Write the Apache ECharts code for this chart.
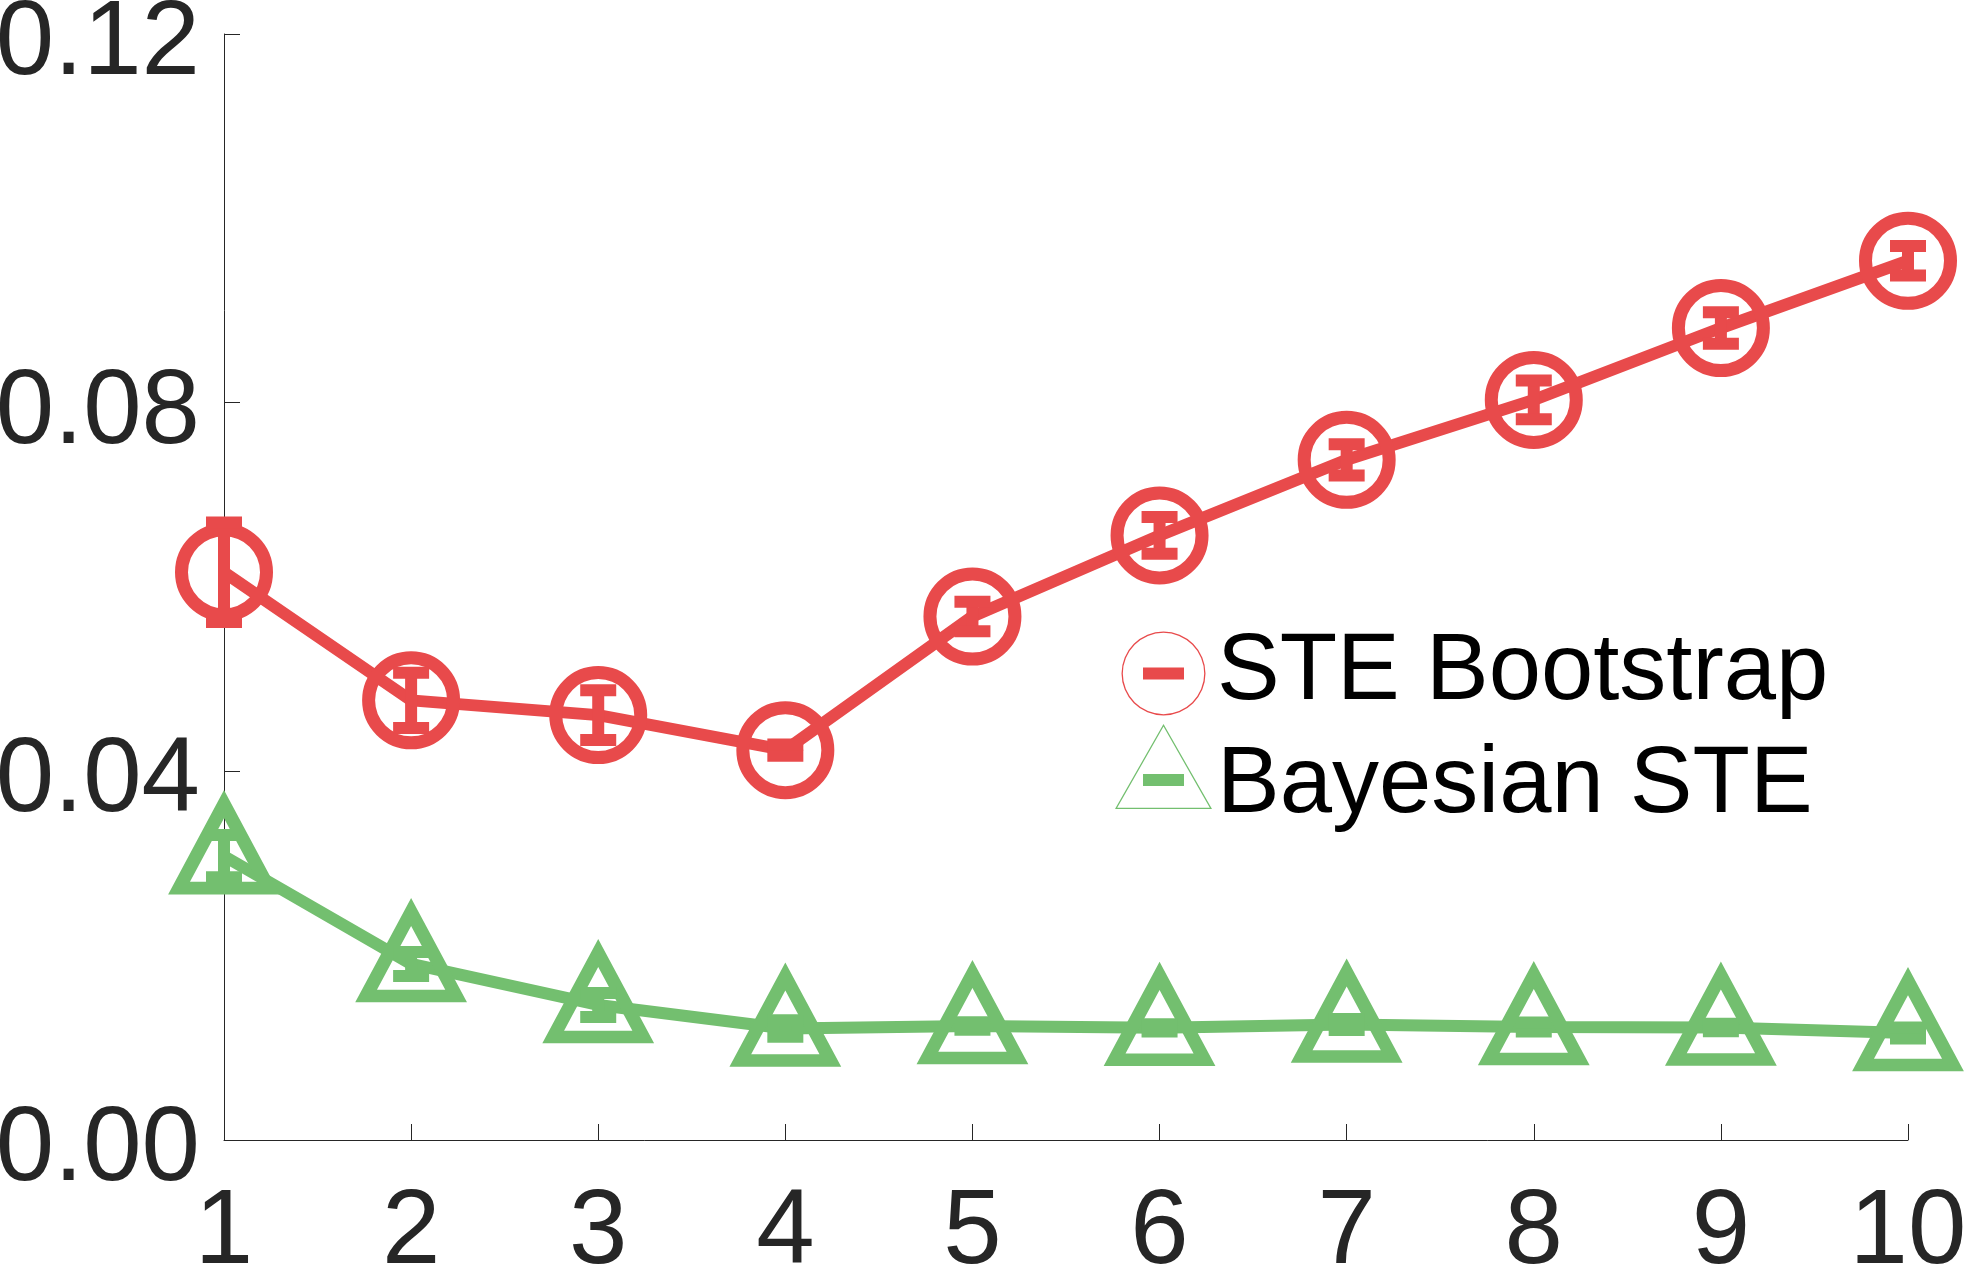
<!DOCTYPE html>
<html>
<head>
<meta charset="utf-8">
<title>STE Bootstrap vs Bayesian STE</title>
<script src="https://cdn.jsdelivr.net/npm/echarts@6/dist/echarts.min.js"></script>
<style>
  html, body { margin: 0; padding: 0; background: #fff; }
  #chart { width: 1966px; height: 1267px; }
</style>
</head>
<body>
<div id="chart"></div>
<script>
// x positions
const xValues = [1, 2, 3, 4, 5, 6, 7, 8, 9, 10]
const yTicks = [0, 0.04, 0.08, 0.12]

// STE Bootstrap: mean and half error bar
const bootMean = [0.0616, 0.0477, 0.0461, 0.0423, 0.0568, 0.0656, 0.0738, 0.0803, 0.0881, 0.0954]
const bootErr = [0.0054, 0.0030, 0.0027, 0.0006, 0.0016, 0.0020, 0.0017, 0.0021, 0.0017, 0.0016]

// Bayesian STE: mean and half error bar
const bayesMean = [0.0308, 0.0191, 0.01465, 0.0121, 0.01237, 0.01217, 0.01253, 0.01226, 0.0122, 0.0116]
const bayesErr = [0.0023, 0.0013, 0.0013, 0.0009, 0.0004, 0.0004, 0.0006, 0.0005, 0.0004, 0.0006]

const seriesNames = ['STE Bootstrap', 'Bayesian STE']

const RED = '#E84A4B'
const GREEN = '#73BF6F'
const FONT = 'Liberation Sans'

// legend icons: thin outline + small bar, padded to a 97x125 box
// (the lone M points only widen the box so the marker sits where matlab puts it)
const circleIcon = 'path://M-6.5 -20.5M90.5 104.5' +
  'M0 42A42 42 0 1 1 84 42A42 42 0 1 1 0 42Z' +
  'M1.3 42A40.7 40.7 0 1 0 82.7 42A40.7 40.7 0 1 0 1.3 42Z' +
  'M21.5 36L62.5 36L62.5 48L21.5 48Z'
const triangleIcon = 'path://M0 125' +
  'M48.5 0L97 85L0 85Z' +
  'M48.5 2.6L2.2 83.7L94.8 83.7Z' +
  'M28 50L69 50L69 62L28 62Z'

function errData(mean, err) {
  return xValues.map((x, i) => [x, mean[i] - err[i], mean[i] + err[i]])
}

function lineData(mean) {
  return xValues.map((x, i) => [x, mean[i]])
}

function errorBarRenderer(color) {
  return function (params, api) {
    const x = api.value(0)
    const lo = api.coord([x, api.value(1)])
    const hi = api.coord([x, api.value(2)])
    const hw = 18
    const style = { stroke: color, lineWidth: 12, fill: null, lineCap: 'butt' }
    return {
      type: 'group',
      children: [
        { type: 'line', shape: { x1: lo[0], y1: lo[1], x2: hi[0], y2: hi[1] }, style: style },
        { type: 'line', shape: { x1: lo[0] - hw, y1: lo[1], x2: lo[0] + hw, y2: lo[1] }, style: style },
        { type: 'line', shape: { x1: hi[0] - hw, y1: hi[1], x2: hi[0] + hw, y2: hi[1] }, style: style }
      ]
    }
  }
}

const chart = echarts.init(document.getElementById('chart'), null, { renderer: 'canvas' })

const option = {
  backgroundColor: '#fff',
  animation: false,
  grid: {
    left: 224,
    right: 58,
    top: 34,
    bottom: 127,
    containLabel: false,
    outerBoundsMode: 'none'
  },
  legend: {
    orient: 'vertical',
    left: 1110,
    top: 606,
    itemWidth: 97,
    itemHeight: 125,
    itemGap: -12,
    textStyle: {
      fontSize: 94,
      lineHeight: 94,
      color: '#000',
      fontFamily: FONT
    },
    data: [
      { name: seriesNames[0], icon: circleIcon, itemStyle: { color: RED, borderWidth: 0 } },
      { name: seriesNames[1], icon: triangleIcon, itemStyle: { color: GREEN, borderWidth: 0 } }
    ]
  },
  xAxis: {
    type: 'value',
    min: 1,
    max: 10,
    interval: 1,
    axisLine: { show: true, lineStyle: { color: '#262626', width: 1 } },
    axisTick: { show: true, inside: true, length: 16, lineStyle: { color: '#262626', width: 1 } },
    axisLabel: {
      margin: 42,
      fontSize: 105,
      color: '#262626',
      fontFamily: FONT
    },
    splitLine: { show: false }
  },
  yAxis: {
    type: 'value',
    min: yTicks[0],
    max: yTicks[yTicks.length - 1],
    interval: 0.04,
    axisLine: { show: true, lineStyle: { color: '#262626', width: 1 } },
    axisTick: { show: true, inside: true, length: 16, lineStyle: { color: '#262626', width: 1 } },
    axisLabel: {
      margin: 24,
      fontSize: 105,
      color: '#262626',
      fontFamily: FONT,
      verticalAlign: 'top',
      lineHeight: 22,
      formatter: v => v.toFixed(2)
    },
    splitLine: { show: false }
  },
  series: [
    {
      name: seriesNames[0],
      type: 'line',
      data: lineData(bootMean),
      symbol: 'circle',
      symbolSize: 85,
      lineStyle: { color: RED, width: 12 },
      itemStyle: { color: 'rgba(0,0,0,0)', borderColor: RED, borderWidth: 13 },
      z: 3
    },
    {
      name: seriesNames[0],
      type: 'custom',
      data: errData(bootMean, bootErr),
      encode: { x: 0, y: [1, 2] },
      renderItem: errorBarRenderer(RED),
      z: 4
    },
    {
      name: seriesNames[1],
      type: 'line',
      data: lineData(bayesMean),
      symbol: 'triangle',
      symbolSize: [90, 84],
      symbolOffset: [0, -10],
      lineStyle: { color: GREEN, width: 12 },
      itemStyle: {
        color: 'rgba(0,0,0,0)',
        borderColor: GREEN,
        borderWidth: 13,
        borderJoin: 'miter',
        borderMiterLimit: 10
      },
      z: 3
    },
    {
      name: seriesNames[1],
      type: 'custom',
      data: errData(bayesMean, bayesErr),
      encode: { x: 0, y: [1, 2] },
      renderItem: errorBarRenderer(GREEN),
      z: 4
    }
  ]
}

chart.setOption(option)
</script>
</body>
</html>
